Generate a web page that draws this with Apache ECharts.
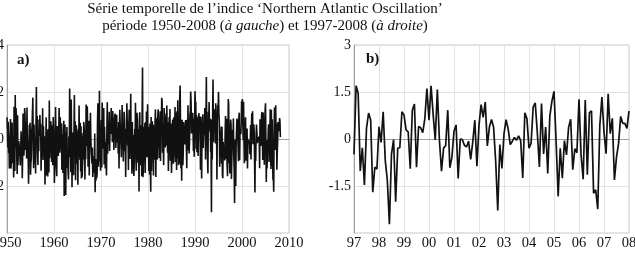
<!DOCTYPE html>
<html>
<head>
<meta charset="utf-8">
<script src="https://cdn.jsdelivr.net/npm/echarts@6/dist/echarts.min.js"></script>
<style>
  html, body { margin: 0; padding: 0; background: #fff; }
  #chart { width: 635px; height: 254px; }
</style>
</head>
<body>
<div id="chart"></div>
<script>
// monthly NAO index, Jan 1950 .. Dec 1996
const naoEarly = [
  0.92, 0.40, -0.36, 0.73, -0.59, -0.06, -1.26, -0.05, 0.25, 0.85, -1.26, -1.02,
  0.08, 0.70, -1.02, -0.22, -0.59, -1.64, 1.37, -0.22, -1.36, 1.87, -0.39, 1.32,
  0.93, -0.83, -1.49, 1.01, -1.12, -0.40, -0.09, -0.28, -0.54, -0.73, -1.13, -0.43,
  0.33, -0.49, -0.04, -1.67, -0.66, 1.09, 0.40, -0.71, -0.35, 1.32, 1.04, -0.47,
  0.37, 0.74, -0.83, 1.34, -0.09, -0.25, -0.60, -1.90, -0.44, 0.60, 0.40, 0.69,
  -1.52, -1.02, -0.86, 0.30, 0.55, 0.49, 1.76, -0.35, -1.24, 0.62, -0.41, -1.05,
  0.05, -1.47, 0.41, 2.21, -0.15, 0.98, -0.62, -1.11, 0.36, -0.52, 0.83, 0.12,
  1.02, 0.41, 0.63, -1.35, -0.42, -0.14, -0.78, 1.31, -0.89, 0.55, -0.33, -0.24,
  0.12, -1.94, -0.38, -0.47, 0.92, -1.55, -0.82, 0.36, -1.60, 0.42, -0.57, -1.43,
  1.64, -0.82, 0.12, -0.35, 0.75, -0.27, -0.98, 0.30, 0.58, -1.12, 0.94, 0.14,
  -0.35, -1.87, -0.94, 0.42, 1.36, -0.08, -1.22, -1.58, 0.55, -0.65, 0.18, -0.72,
  0.18, 1.32, 0.42, -0.58, 0.92, -0.43, -0.12, 0.67, -1.31, 0.21, -0.56, -1.45,
  0.35, 0.78, -2.43, -0.88, 0.62, -1.06, -2.38, 0.30, -0.44, 0.51, -1.22, -0.80,
  -1.44, -1.72, 0.12, -0.63, 2.15, -0.77, 0.41, -1.41, 1.68, -0.39, -2.05, 0.28,
  -0.45, -1.13, -1.54, 0.12, 1.87, -0.52, 0.76, -1.76, -0.28, 0.58, -1.05, 0.32,
  -0.34, -1.95, 0.44, -0.72, 1.42, -0.15, -0.88, 0.69, -1.38, 0.54, -1.68, 0.25,
  -1.62, -1.05, 0.12, -0.87, 0.72, 0.49, -0.41, -1.72, 0.37, -0.86, 1.47, -0.31,
  0.83, 1.39, 0.36, -1.18, -0.28, 0.78, -1.55, 0.62, -0.34, 1.12, 0.15, -0.52,
  -0.46, -1.05, -0.36, -1.62, -1.22, -0.74, -0.82, -1.43, 0.23, -2.27, -0.85, -1.78,
  -0.96, -1.67, -1.49, 0.58, 1.52, -1.18, 0.45, -0.92, 2.05, -0.66, -1.02, -1.35,
  -1.43, 0.81, -1.21, 1.55, 0.14, 0.94, -0.41, 1.32, -1.08, 0.52, -0.34, -1.25,
  -0.12, -0.85, -1.55, 0.32, 1.56, -0.63, 0.74, 0.48, -0.22, 1.16, -0.51, 0.37,
  0.58, 0.21, 1.32, 0.44, 0.87, -0.14, 1.19, 0.53, 0.34, -0.47, 0.64, 0.96,
  1.08, 0.52, -0.38, 0.77, 1.03, -0.15, 0.46, 0.14, -0.62, 0.72, -1.25, 0.35,
  1.24, 0.62, 0.15, -0.22, -0.78, 0.34, 1.45, -0.43, 0.55, -0.96, 0.12, 1.16,
  0.76, -0.52, 0.28, -1.62, 0.44, -0.13, 1.52, 0.69, -0.28, 0.13, -1.32, 0.57,
  1.24, 0.46, -0.85, 0.68, 1.93, -0.44, -0.21, -1.48, 0.72, -1.29, 0.18, -1.15,
  -1.57, -0.92, 0.42, -0.38, 1.54, -0.68, -1.35, 0.46, 1.12, 0.51, -0.82, -1.02,
  0.42, -2.23, 0.82, 1.14, -1.12, 0.58, -0.48, 0.36, -1.58, 1.06, 3.04, -1.62,
  -1.38, -0.66, 0.51, -0.94, 0.68, -1.45, 0.72, -0.38, 1.17, -0.78, 0.54, 1.48,
  -0.75, -0.05, -1.36, 0.52, -1.52, 0.66, -1.12, -2.24, 0.94, -1.36, -0.42, 0.75,
  -0.16, 0.62, -1.55, 0.57, -0.88, -0.46, 0.68, 1.26, -1.62, 0.34, 0.88, -0.51,
  -0.87, 0.94, 1.26, -0.38, 0.72, -0.81, 0.52, 1.18, -0.94, 1.03, 0.36, 1.75,
  1.61, -0.58, 0.64, -0.25, -1.12, 1.32, 0.83, 1.08, -0.36, 0.47, 0.95, -0.28,
  1.42, 0.38, -0.58, 0.71, -1.36, -0.45, 0.92, -0.52, 1.28, -0.92, 0.66, 0.17,
  -1.45, -0.68, 0.48, 0.83, -0.74, -1.05, 0.92, 0.41, -0.75, 1.36, -0.98, 0.24,
  1.12, -1.32, 1.18, -0.82, 1.65, 0.48, -1.12, 0.32, -1.05, 1.72, 2.28, 0.68,
  -1.24, -0.46, -1.78, 0.82, 0.36, -1.12, -0.58, 0.72, 0.05, 0.54, -0.23, 0.36,
  0.81, 0.12, -0.35, -1.24, 0.82, -0.48, 1.44, 0.38, 0.56, -0.62, -0.07, 1.04,
  1.17, 2.02, 1.56, 0.23, 0.73, 0.42, 1.12, 0.36, -0.52, 0.87, -0.76, 0.48,
  2.03, 1.44, 1.58, -0.42, 1.02, -0.56, 0.93, 0.48, -0.72, 0.32, 1.11, 0.38,
  0.97, 0.46, -1.31, 0.95, -0.68, -1.68, 0.78, 0.42, 1.05, -0.38, 0.45, 0.52,
  0.16, 1.32, 0.62, -0.87, 0.95, 2.64, 0.14, 0.28, -0.86, -1.47, 1.16, 0.31,
  1.57, 0.42, 0.73, 0.86, -0.55, -0.28, -3.12, 0.83, -0.87, 1.05, 2.53, -0.14,
  1.04, 0.46, 1.26, 0.98, -0.19, 1.52, 0.47, 0.67, -1.72, 0.78, 1.43, 1.16,
  2.01, 1.08, 0.76, -1.18, -0.52, 0.37, -0.18, 0.53, -1.05, 0.52, -1.52, -1.67,
  -0.12, -0.56, -0.28, -0.64, -0.91, 0.26, 0.98, -0.84, -0.73, 0.86, -1.13, -1.58
];

// monthly NAO index, Jan 1997 .. Jan 2008 (panel b)
const naoRecent = [
  -0.49, 1.70, 1.46, -1.02, -0.28, -1.47, 0.34, 0.83, 0.61, -1.70, -0.90, -0.96,
  0.39, -0.11, 0.87, -0.68, -1.32, -2.72, -0.48, -0.02, -2.00, -0.29, -0.28, 0.87,
  0.77, 0.29, 0.23, -0.95, 0.92, 1.12, -0.90, 0.40, 0.36, 0.20, 0.65, 1.61,
  0.60, 1.70, 0.77, -0.03, 1.58, -0.03, -1.03, -0.29, -0.21, 0.92, -0.92, -0.58,
  0.25, 0.45, -1.26, 0.00, -0.02, -0.20, -0.25, -0.07, -0.65, -0.10, 0.60, -0.87,
  0.44, 1.10, 0.69, 1.18, -0.22, 0.38, 0.62, 0.38, -0.70, -2.28, -0.18, -0.94,
  0.16, 0.62, 0.32, -0.18, -0.07, 0.05, -0.04, 0.10, -0.05, -1.24, 0.84, 0.65,
  -0.29, -0.14, 1.02, 1.15, 0.19, -0.89, 1.13, -0.48, 0.38, -1.10, 0.73, 1.21,
  1.52, -0.06, -1.83, -0.30, -1.25, -0.05, -0.51, 0.37, 0.63, -0.98, -0.31, -0.44,
  1.27, -0.51, -1.28, 1.24, -1.14, 0.84, 0.90, -1.73, -1.62, -2.24, 0.44, 1.34,
  0.22, -0.47, 1.44, 0.17, 0.66, -1.31, -0.58, -0.14, 0.72, 0.50, 0.50, 0.34,
  0.89
];
// months after the end of panel b, shown in panel a only
const naoTail = [0.73, 0.08];

const startA = 1950;
const startB = 1997;
const ticksB = ['97', '98', '99', '00', '01', '02', '03', '04', '05', '06', '07', '08'];

const allValues = naoEarly.concat(naoRecent, naoTail);
const dataA = allValues.map((v, i) => [startA + i / 12, v]);
const dataB = naoRecent.map((v, i) => [startB + i / 12, v]);

const serif = 'Liberation Serif, DejaVu Serif, serif';
const gridGrey = '#e2e2e2';
const axisGrey = '#a0a0a0';

const chart = echarts.init(document.getElementById('chart'));

const xAxisBase = {
  type: 'value',
  axisLine: { show: true, lineStyle: { color: axisGrey } },
  axisTick: { show: false },
  splitLine: { show: true, lineStyle: { color: gridGrey, width: 1 } },
  axisLabel: { color: '#111', fontFamily: serif, fontSize: 14.5, margin: 3 }
};
const yAxisBase = {
  type: 'value',
  axisLine: { show: true, lineStyle: { color: axisGrey } },
  axisTick: { show: false },
  splitLine: { show: true, lineStyle: { color: gridGrey, width: 1 } },
  axisLabel: { color: '#111', fontFamily: serif, fontSize: 14, margin: 3 }
};

const options = {
  animation: false,
  backgroundColor: '#fff',
  title: {
    left: 260,
    top: -4,
    textAlign: 'center',
    text: '{n|Série temporelle de l’indice ‘Northern Atlantic Oscillation’}\n' +
          '{n|période 1950-2008 (}{i|à gauche}{n|) et 1997-2008 (}{i|à droite}{n|)}',
    textStyle: {
      fontWeight: 'normal',
      rich: {
        n: { fontFamily: serif, fontSize: 15, fontWeight: 'normal', color: '#111', lineHeight: 17 },
        i: { fontFamily: serif, fontSize: 15, fontWeight: 'normal', color: '#111', lineHeight: 17, fontStyle: 'italic' }
      }
    }
  },
  grid: [
    { left: 7, top: 45, width: 282, height: 188, show: true, borderColor: '#c8c8c8', borderWidth: 1, outerBoundsMode: 'none', containLabel: false },
    { left: 354, top: 45, width: 275, height: 188, show: true, borderColor: '#c8c8c8', borderWidth: 1, outerBoundsMode: 'none', containLabel: false }
  ],
  xAxis: [
    Object.assign({}, xAxisBase, {
      gridIndex: 0, min: 1950, max: 2010, interval: 10,
      axisLabel: Object.assign({}, xAxisBase.axisLabel, { formatter: v => String(v) })
    }),
    Object.assign({}, xAxisBase, {
      gridIndex: 1, min: 1997, max: 2008, interval: 1,
      axisLabel: Object.assign({}, xAxisBase.axisLabel, {
        formatter: v => ticksB[Math.round(v - startB)]
      })
    })
  ],
  yAxis: [
    Object.assign({}, yAxisBase, {
      gridIndex: 0, min: -4, max: 4, interval: 2,
      axisLabel: Object.assign({}, yAxisBase.axisLabel, { formatter: v => v === -4 ? '' : String(v) })
    }),
    Object.assign({}, yAxisBase, {
      gridIndex: 1, min: -3, max: 3, interval: 1.5,
      axisLabel: Object.assign({}, yAxisBase.axisLabel, { formatter: v => v === -3 ? '' : String(v) })
    })
  ],
  graphic: [
    { type: 'text', left: 17, top: 53, style: { text: 'a)', font: 'bold 15px ' + serif, fill: '#111' } },
    { type: 'text', left: 366, top: 52, style: { text: 'b)', font: 'bold 15px ' + serif, fill: '#111' } }
  ],
  series: [
    {
      type: 'line', xAxisIndex: 0, yAxisIndex: 0, data: dataA,
      showSymbol: false, lineStyle: { color: '#111', width: 1.6 }
    },
    {
      type: 'line', xAxisIndex: 1, yAxisIndex: 1, data: dataB,
      showSymbol: false, lineStyle: { color: '#111', width: 1.7 }
    }
  ]
};

chart.setOption(options);
</script>
</body>
</html>
